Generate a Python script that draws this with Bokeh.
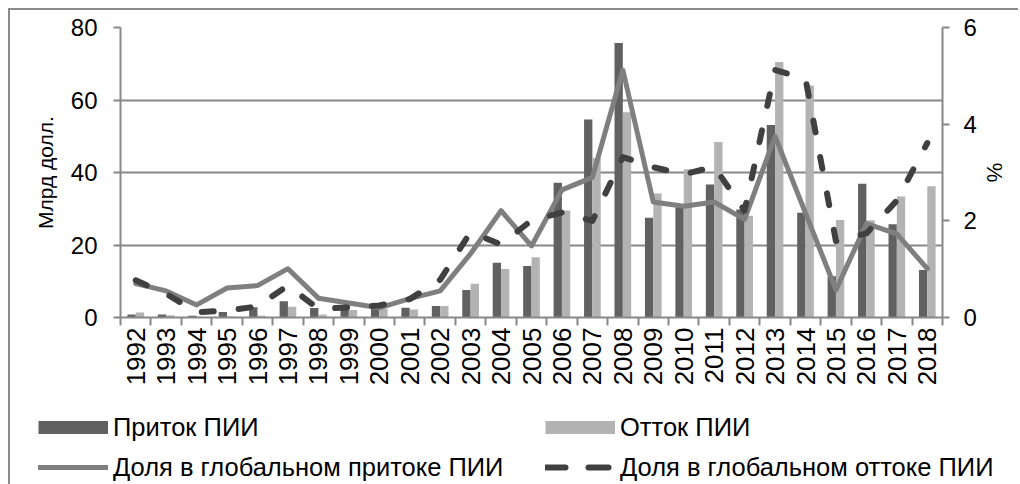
import math
import numpy as np
from bokeh.plotting import figure
from bokeh.models import (Range1d, LinearAxis, FixedTicker, Legend, LegendItem,
                          ColumnDataSource, Grid)
from bokeh.embed import file_html
from bokeh.resources import INLINE

years = [str(y) for y in range(1992, 2019)]
inflow = [0.8, 0.8, 0.5, 1.5, 2.8, 4.5, 2.6, 3.0, 2.8, 2.7, 3.2, 7.6, 15.1, 14.2,
          37.2, 54.6, 75.7, 27.5, 30.4, 36.7, 29.8, 53.1, 28.9, 11.4, 36.9, 25.7, 13.1]
outflow = [1.4, 0.6, 0.2, 0.3, 0.5, 3.0, 0.8, 2.1, 2.4, 2.2, 3.2, 9.3, 13.4, 16.6,
           29.5, 44.0, 56.6, 34.2, 40.9, 48.4, 28.1, 70.5, 64.0, 26.9, 26.8, 33.4, 36.2]
share_in = [0.70, 0.55, 0.26, 0.61, 0.66, 1.01, 0.40, 0.30, 0.20, 0.39, 0.55, 1.32,
            2.21, 1.48, 2.64, 2.90, 5.12, 2.39, 2.30, 2.39, 2.03, 3.75, 2.16, 0.57,
            1.94, 1.73, 1.01]
share_out = [0.77, 0.49, 0.11, 0.14, 0.23, 0.66, 0.18, 0.21, 0.25, 0.38, 0.78, 1.77,
             1.51, 2.01, 2.17, 2.00, 3.32, 3.11, 2.96, 3.12, 2.21, 5.12, 4.94, 1.58,
             1.74, 2.42, 3.61]
series_names = ["Приток ПИИ", "Отток ПИИ",
                "Доля в глобальном притоке ПИИ", "Доля в глобальном оттоке ПИИ"]

left_ticks = [0, 20, 40, 60, 80]
right_ticks = [0, 2, 4, 6]

FONT = "Liberation Sans"
GRID = "#878787"
DARK = "#616161"
LIGHT = "#b3b3b3"
LINE_IN = "#7f7f7f"
LINE_OUT = "#404040"

n = len(years)
xc = np.arange(n) + 0.5
src = ColumnDataSource(dict(x=xc, x_in=xc - 0.137, x_out=xc + 0.137,
                            inflow=inflow, outflow=outflow,
                            share_in=share_in, share_out=share_out))

p = figure(width=1010, height=393, x_range=Range1d(0, n), y_range=Range1d(0, 80),
           output_backend="svg", toolbar_location=None,
           min_border_left=110, min_border_right=78, min_border_top=17,
           min_border_bottom=86, x_axis_type=None, y_axis_type=None)
p.extra_y_ranges = {"pct": Range1d(0, 6)}
p.outline_line_color = None
p.background_fill_color = "white"
p.border_fill_color = "white"
p.styles = {"margin-left": "8px", "margin-top": "8px",
            "border-left": "2px solid #8a8a8a", "border-top": "2px solid #8a8a8a"}

# axes
xaxis = LinearAxis(ticker=FixedTicker(ticks=list(xc), minor_ticks=list(range(n + 1))))
xaxis.major_label_overrides = {float(v): y for v, y in zip(xc, years)}
xaxis.major_label_orientation = math.pi / 2
xaxis.major_tick_out = 0
xaxis.major_tick_in = 0
xaxis.minor_tick_out = 8
xaxis.minor_tick_in = 0
xaxis.minor_tick_line_color = GRID
xaxis.minor_tick_line_width = 2
xaxis.axis_line_color = GRID
xaxis.axis_line_width = 2
xaxis.major_label_standoff = 2
xaxis.major_label_text_font = FONT
xaxis.major_label_text_font_size = "26px"
xaxis.major_label_text_color = "black"
p.add_layout(xaxis, "below")

yaxis = LinearAxis(ticker=FixedTicker(ticks=left_ticks, minor_ticks=[]),
                   axis_label="Млрд долл.")
yaxis.major_tick_out = 7
yaxis.major_tick_in = 0
yaxis.major_tick_line_color = GRID
yaxis.major_tick_line_width = 2
yaxis.axis_line_color = GRID
yaxis.axis_line_width = 2
yaxis.major_label_standoff = 16
yaxis.major_label_text_font = FONT
yaxis.major_label_text_font_size = "24px"
yaxis.major_label_text_color = "black"
yaxis.axis_label_text_font = FONT
yaxis.axis_label_text_font_size = "21px"
yaxis.axis_label_text_font_style = "normal"
yaxis.axis_label_text_color = "black"
yaxis.axis_label_standoff = 11
p.add_layout(yaxis, "left")

raxis = LinearAxis(y_range_name="pct", ticker=FixedTicker(ticks=right_ticks, minor_ticks=[]),
                   axis_label="%")
raxis.major_tick_out = 7
raxis.major_tick_in = 0
raxis.major_tick_line_color = GRID
raxis.major_tick_line_width = 2
raxis.axis_line_color = GRID
raxis.axis_line_width = 2
raxis.major_label_standoff = 14
raxis.major_label_text_font = FONT
raxis.major_label_text_font_size = "24px"
raxis.major_label_text_color = "black"
raxis.axis_label_text_font = FONT
raxis.axis_label_text_font_size = "22px"
raxis.axis_label_text_font_style = "normal"
raxis.axis_label_text_color = "black"
raxis.axis_label_standoff = 2
p.add_layout(raxis, "right")

p.add_layout(Grid(dimension=1, ticker=yaxis.ticker, grid_line_color=GRID,
                  grid_line_width=2))

# bars
p.vbar(x="x_in", top="inflow", width=0.273, source=src, fill_color=DARK, line_color=None)
p.vbar(x="x_out", top="outflow", width=0.273, source=src, fill_color=LIGHT, line_color=None)
# lines
p.line(x="x", y="share_in", source=src, y_range_name="pct", line_color=LINE_IN,
       line_width=5, line_join="round", line_cap="round")
p.line(x="x", y="share_out", source=src, y_range_name="pct", line_color=LINE_OUT,
       line_width=6, line_join="round", line_cap="round", line_dash="12 25")

# legend strip: a second root whose frame holds the legend
lg = figure(width=1010, height=90, x_range=Range1d(0, 1), y_range=Range1d(0, 1),
            output_backend="svg", toolbar_location=None,
            min_border_left=0, min_border_right=0, min_border_top=0,
            min_border_bottom=0, x_axis_type=None, y_axis_type=None)
lg.outline_line_color = None
lg.xgrid.visible = False
lg.ygrid.visible = False
lg.background_fill_color = None
lg.border_fill_color = None
lg.styles = {"position": "absolute", "left": "8px", "top": "394px",
             "border-left": "2px solid #8a8a8a"}
k1 = lg.line(x=[-5, -4], y=[-5, -5], line_color=DARK, line_width=13, line_cap="butt")
k2 = lg.line(x=[-5, -4], y=[-5, -5], line_color=LIGHT, line_width=13, line_cap="butt")
k3 = lg.line(x=[-5, -4], y=[-5, -5], line_color=LINE_IN, line_width=5, line_cap="round")
k4 = lg.line(x=[-5, -4], y=[-5, -5], line_color=LINE_OUT, line_width=6, line_cap="round",
             line_dash="20 23")
legend = Legend(items=[LegendItem(label=s, renderers=[r])
                       for s, r in zip(series_names, [k1, k2, k3, k4])],
                orientation="horizontal", ncols=2, location=(28, -3),
                glyph_width=70, glyph_height=16, label_standoff=5, spacing=0,
                label_width=432, label_height=40, padding=0, margin=0,
                border_line_alpha=0, background_fill_alpha=0,
                label_text_font=FONT, label_text_font_size="25.5px",
                label_text_color="black")
lg.add_layout(legend, "center")

open("out.html", "w").write(file_html([p, lg], INLINE))
